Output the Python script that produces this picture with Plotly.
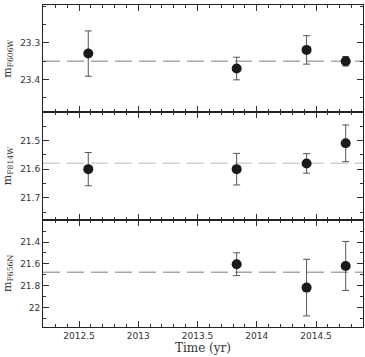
import plotly.graph_objects as go
from plotly.subplots import make_subplots

# Data
t_f606w = [2012.578, 2013.83, 2014.42, 2014.75]
m_f606w = [23.329, 23.370, 23.319, 23.350]
e_f606w = [0.062, 0.031, 0.039, 0.013]

t_f814w = [2012.578, 2013.83, 2014.42, 2014.75]
m_f814w = [21.600, 21.600, 21.580, 21.510]
e_f814w = [0.058, 0.055, 0.034, 0.064]

t_f656n = [2013.83, 2014.42, 2014.75]
m_f656n = [21.603, 21.818, 21.619]
e_f656n = [0.105, 0.26, 0.225]

mean_mag = [23.35, 21.579, 21.677]
y_titles = ["m<sub>F606W</sub>", "m<sub>F814W</sub>", "m<sub>F656N</sub>"]
y_ranges = [[23.49, 23.196], [21.776, 21.402], [22.18, 21.194]]
y_minor = [0.05, 0.05, 0.1]
y_tickvals = [[23.3, 23.4], [21.5, 21.6, 21.7], [21.4, 21.6, 21.8, 22.0]]
y_ticktext = [["23.3", "23.4"], ["21.5", "21.6", "21.7"], ["21.4", "21.6", "21.8", "22"]]
x_tickvals = [2012.5, 2013.0, 2013.5, 2014.0, 2014.5]
x_ticktext = ["2012.5", "2013", "2013.5", "2014", "2014.5"]
x_range = [2012.196, 2014.896]

series = [(t_f606w, m_f606w, e_f606w), (t_f814w, m_f814w, e_f814w), (t_f656n, m_f656n, e_f656n)]
dash_colors = ["#a8a8a8", "#d0d0d0", "#a8a8a8"]

fig = make_subplots(rows=3, cols=1, shared_xaxes=True, vertical_spacing=0)

for i, (t, m, e) in enumerate(series):
    r = i + 1
    fig.add_trace(go.Scatter(
        x=x_range, y=[mean_mag[i]] * 2, mode="lines",
        line=dict(color=dash_colors[i], width=1.5, dash="17px,7px"),
        showlegend=False, hoverinfo="skip"), row=r, col=1)
    fig.add_trace(go.Scatter(
        x=t, y=m, mode="markers",
        marker=dict(color="#1a1a1a", size=10),
        error_y=dict(type="data", array=e, visible=True, color="#555555", thickness=1, width=3.5),
        showlegend=False), row=r, col=1)
    fig.update_yaxes(
        range=y_ranges[i], tickvals=y_tickvals[i], ticktext=y_ticktext[i],
        ticks="inside", ticklen=6, tickcolor="#333", mirror="allticks",
        showline=True, linecolor="#222", linewidth=1, showgrid=False, zeroline=False,
        minor=dict(dtick=y_minor[i], tick0=0, ticks="inside", ticklen=3, tickcolor="#333", showgrid=False),
        tickfont=dict(family="DejaVu Sans", size=9, color="#333"),
        title=dict(text=y_titles[i], font=dict(family="DejaVu Serif", size=11, color="#333"), standoff=6),
        row=r, col=1)
    fig.update_xaxes(
        range=x_range, tickvals=x_tickvals, ticktext=x_ticktext,
        ticks="inside", ticklen=6, tickcolor="#333", mirror="allticks",
        showline=True, linecolor="#222", linewidth=1, showgrid=False, zeroline=False,
        minor=dict(dtick=0.1, tick0=2012.5, ticks="inside", ticklen=3, tickcolor="#333", showgrid=False),
        tickfont=dict(family="DejaVu Sans", size=9, color="#333"),
        row=r, col=1)

fig.update_xaxes(title=dict(text="Time (yr)", font=dict(family="DejaVu Serif", size=12, color="#333"), standoff=2), row=3, col=1)

fig.update_layout(
    width=365, height=357,
    margin=dict(l=43, r=2, t=5, b=30),
    plot_bgcolor="white", paper_bgcolor="white",
)

fig.write_html("out.html")
